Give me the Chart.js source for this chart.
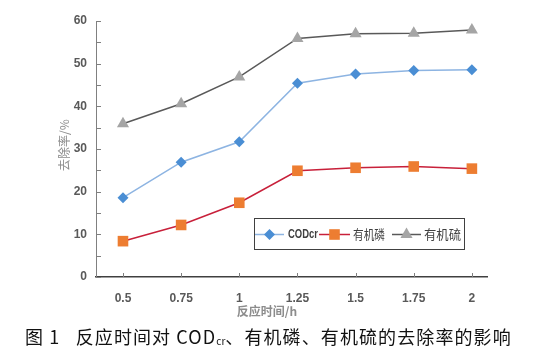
<!DOCTYPE html>
<html>
<head>
<meta charset="utf-8">
<script src="https://cdn.jsdelivr.net/npm/chart.js@4/dist/chart.umd.min.js"></script>
<style>
  html,body{margin:0;padding:0;background:#fff;}
  #wrap{position:relative;width:549px;height:364px;}
  #chart{position:absolute;left:0;top:0;}
  #caption{position:absolute;left:25px;top:326px;font:18px "Noto Sans CJK SC",sans-serif;color:#111;white-space:nowrap;line-height:20px;letter-spacing:1.1px;}
  #caption sub{font-size:10px;vertical-align:-1px;letter-spacing:0;}
</style>
</head>
<body>
<div id="wrap">
  <canvas id="chart" width="549" height="364"></canvas>
  <div id="caption">图 1&nbsp;&nbsp;&nbsp;反应时间对 COD<sub>cr</sub>、有机磷、有机硫的去除率的影响</div>
</div>
<script>
// 数据
const times = [0.5, 0.75, 1, 1.25, 1.5, 1.75, 2];
const codcr = [18.6, 26.9, 31.7, 45.4, 47.6, 48.4, 48.6];
const youjiLin = [8.4, 12.2, 17.4, 24.9, 25.6, 25.9, 25.4];
const youjiLiu = [35.9, 40.6, 46.9, 55.9, 57.0, 57.1, 57.9];
const yTicks = [0, 10, 20, 30, 40, 50, 60];
const seriesNames = ['CODcr', '有机磷', '有机硫'];

const toPts = arr => arr.map((v, i) => ({x: times[i], y: v}));

// 横向压缩文字
function squeezeText(c, txt, x, y, w){
  const m = c.measureText(txt).width;
  c.save();
  c.translate(x, y);
  c.scale(Math.min(1, w / m), 1);
  c.fillText(txt, 0, 0);
  c.restore();
}

// 图例和坐标轴标题
const extras = {
  id: 'extras',
  afterDraw(chart){
    const c = chart.ctx;
    c.save();
    // y axis title
    c.fillStyle = '#8c8c8c';
    c.font = '12px "Noto Sans CJK SC", sans-serif';
    c.textAlign = 'center';
    c.textBaseline = 'middle';
    c.translate(64, 145);
    c.rotate(-Math.PI / 2);
    c.fillText('去除率/%', 0, 0);
    c.restore();

    c.save();
    c.fillStyle = '#8c8c8c';
    c.font = 'bold 12px "Noto Sans CJK SC", sans-serif';
    c.textAlign = 'center';
    c.textBaseline = 'middle';
    c.fillText('反应时间/h', 267, 311);

    // legend box
    const lx = 254, ly = 218, lw = 210, lh = 31;
    c.fillStyle = '#fff';
    c.fillRect(lx, ly, lw, lh);
    c.strokeStyle = '#404040';
    c.lineWidth = 1;
    c.strokeRect(lx + 0.5, ly + 0.5, lw, lh);

    const items = [
      {x1: 255, x2: 284, tx: 288, tw: 30, font: 'bold 13px "Liberation Sans", sans-serif'},
      {x1: 319, x2: 350, tx: 353, tw: 32, font: '13px "Noto Sans CJK SC", sans-serif'},
      {x1: 392, x2: 421, tx: 424, tw: 37, font: '13px "Noto Sans CJK SC", sans-serif'}
    ];
    const cy = ly + lh / 2 + 1;
    c.textAlign = 'left';
    c.textBaseline = 'middle';
    items.forEach((it, i) => {
      const ds = chart.data.datasets[i];
      c.strokeStyle = ds.borderColor;
      c.lineWidth = 1.5;
      c.beginPath();
      c.moveTo(it.x1, cy);
      c.lineTo(it.x2, cy);
      c.stroke();
      c.fillStyle = ds.pointBackgroundColor;
      c.strokeStyle = ds.pointBorderColor;
      Chart.helpers.drawPoint(c, {pointStyle: ds.pointStyle, radius: ds.pointRadius, borderWidth: 0}, (it.x1 + it.x2) / 2, cy);
      c.fillStyle = '#404040';
      c.font = it.font;
      squeezeText(c, seriesNames[i], it.tx, cy, it.tw);
    });
    c.restore();
  }
};

const tickFont = {family: '"Liberation Sans", sans-serif', size: 12, weight: 'bold'};

const chart = new Chart(document.getElementById('chart'), {
  type: 'line',
  data: {
    datasets: [
      {label: seriesNames[0], data: toPts(codcr), borderColor: '#8db4e2', borderWidth: 1.5,
       pointStyle: 'rectRot', pointRadius: 5.5, pointBackgroundColor: '#4a8ed4', pointBorderColor: '#4a8ed4', pointBorderWidth: 0},
      {label: seriesNames[1], data: toPts(youjiLin), borderColor: '#c8203a', borderWidth: 1.5,
       pointStyle: 'rect', pointRadius: 7.5, pointBackgroundColor: '#ed7d31', pointBorderColor: '#ed7d31', pointBorderWidth: 0},
      {label: seriesNames[2], data: toPts(youjiLiu), borderColor: '#595959', borderWidth: 1.5,
       pointStyle: 'triangle', pointRadius: 7, pointBackgroundColor: '#a5a5a5', pointBorderColor: '#a5a5a5', pointBorderWidth: 0}
    ]
  },
  options: {
    responsive: false,
    animation: false,
    events: [],
    layout: {padding: {left: 0, right: 62, top: 21, bottom: 0}},
    plugins: {legend: {display: false}, tooltip: {enabled: false}},
    scales: {
      x: {
        type: 'linear',
        min: 0.384,
        max: 2.065,
        afterBuildTicks: s => { s.ticks = times.map(v => ({value: v})); },
        afterFit: s => { s.height = 87; },
        grid: {display: false, drawOnChartArea: false, drawTicks: true, tickLength: 4, color: '#808080'},
        border: {display: true, color: '#404040', width: 1.5},
        ticks: {
          color: '#595959',
          font: tickFont,
          padding: 10,
          callback: v => String(v)
        }
      },
      y: {
        min: 0,
        max: 60,
        afterBuildTicks: s => {
          const t = [];
          for (let v = 0; v <= 60; v += 5) t.push({value: v});
          s.ticks = t;
        },
        afterFit: s => { s.width = 96; },
        grid: {display: false, drawTicks: false},
        border: {display: true, color: '#808080', width: 1},
        ticks: {
          color: '#595959',
          font: tickFont,
          padding: 9,
          callback: v => (yTicks.includes(v) ? String(v) : '')
        }
      }
    }
  },
  plugins: [extras, {
    id: 'ticksIn',
    afterDraw(chart){
      // 刻度线画在轴内侧
      const c = chart.ctx, xs = chart.scales.x, ys = chart.scales.y;
      c.save();
      c.strokeStyle = '#7f7f7f';
      c.lineWidth = 1;
      ys.ticks.forEach(t => {
        const py = Math.round(ys.getPixelForValue(t.value)) + 0.5;
        c.beginPath(); c.moveTo(ys.right, py); c.lineTo(ys.right + 5, py); c.stroke();
      });
      xs.ticks.forEach(t => {
        const px = Math.round(xs.getPixelForValue(t.value)) + 0.5;
        c.beginPath(); c.moveTo(px, xs.top); c.lineTo(px, xs.top - 4); c.stroke();
      });
      c.restore();
    }
  }]
});
</script>
</body>
</html>
